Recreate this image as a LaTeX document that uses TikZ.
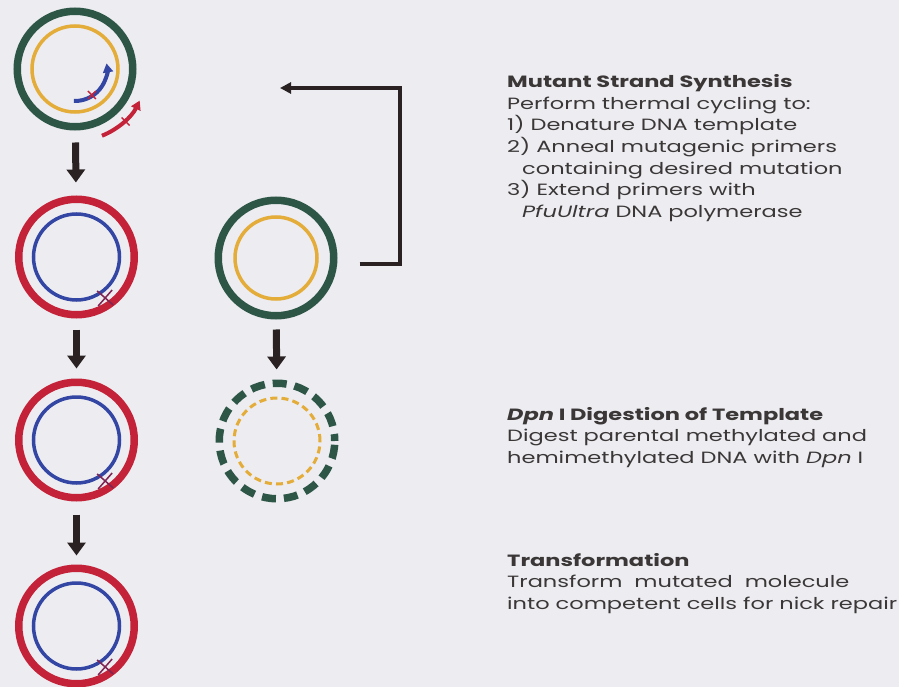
\documentclass[tikz,border=0pt]{standalone}
\usepackage{fontspec}
\setmainfont{Poppins}[FakeStretch=1.38]
\usepackage{xcolor}
\usepackage{tikz}
\usetikzlibrary{calc,arrows.meta}
\definecolor{paper}{HTML}{ECECF1}
\definecolor{tmplgreen}{HTML}{2E5646}
\definecolor{tmplyellow}{HTML}{E4AC38}
\definecolor{mutred}{HTML}{C42238}
\definecolor{mutblue}{HTML}{3446A4}
\definecolor{nickpurple}{HTML}{7E2452}
\definecolor{arrowdark}{HTML}{2A2222}
\definecolor{body}{HTML}{3B3737}
\tikzset{
  outerring/.style={circle, draw, line width=7.5pt, minimum size=115.5pt, inner sep=0pt},
  innerring/.style={circle, draw, line width=3.5pt, minimum size=86pt, inner sep=0pt},
  primer/.style={line width=4pt, -{Triangle[length=9pt,width=10pt]}},
  mutx/.style={draw=mutred, line width=1.4pt},
  nickline/.style={draw=nickpurple, line width=1.5pt},
  stepdown/.style={draw=arrowdark, line width=7pt, -{Triangle[length=13pt,width=18pt]}},
  loopback/.style={draw=arrowdark, line width=3.5pt, -{Triangle[length=11pt,width=11pt]}},
  % multi-line node: anchored at the baseline of its last line
  desc/.style={anchor=base west, align=left, inner sep=0pt, text=body, font=\fontsize{16.3}{21.5}\selectfont},
}

\begin{document}
\begin{tikzpicture}[x=1pt, y=1pt]
\fill[paper] (0,0) rectangle (899,-687);
\useasboundingbox (0,0) rectangle (899,-687);

% left column: template, annealed, nicked, repaired
\node[outerring, draw=tmplgreen] (tmpl) at (75,-69) {};
\node[innerring, draw=tmplyellow] (tmplin) at (tmpl) {};
\node[outerring, draw=mutred] (anneal) at (76.5,-257) {};
\node[innerring, draw=mutblue] (annealin) at (anneal) {};
\node[outerring, draw=mutred] (nicked) at (76.5,-440) {};
\node[innerring, draw=mutblue] (nickedin) at (nicked) {};
\node[outerring, draw=mutred] (repaired) at (76.5,-626) {};
\node[innerring, draw=mutblue] (repairedin) at (repaired) {};

% middle column: parental plasmid and its digested copy
\node[outerring, draw=tmplgreen] (parent) at (276,-258) {};
\node[innerring, draw=tmplyellow, minimum size=82pt] (parentin) at (parent) {};
\node[outerring, draw=tmplgreen, dash pattern=on 14pt off 8pt, dash phase=7pt] (digest) at (277,-441) {};
\node[innerring, draw=tmplyellow, line width=3pt, dash pattern=on 7pt off 4.2pt] (digestin) at (digest) {};

% mutagenic primers on the template
\draw[primer, mutblue] ($(tmpl)+(-92:32)$) arc[start angle=-92, end angle=10, radius=32];
\draw[primer, mutred] ($(tmpl)+(-68:72)$) arc[start angle=-68, end angle=-26, radius=72];
\draw[mutx] ($(tmpl)+(-57:31)+(-4,-4)$) -- ++(8,8) ($(tmpl)+(-57:31)+(-4,4)$) -- ++(8,-8);
\draw[mutx] ($(tmpl)+(-46:73)+(-4,-4)$) -- ++(8,8) ($(tmpl)+(-46:73)+(-4,4)$) -- ++(8,-8);

% nicks carrying the mutation
\foreach \c in {anneal,nicked,repaired}{
  \fill[paper] ($(\c)+(-55:50)$) circle (3.2);
  \draw[nickline] ($(\c)+(-55:50)+(-7,-8)$) -- ++(14,16)
                  ($(\c)+(-55:50)+(-8,7)$) -- ++(16,-14);
}

% steps
\draw[stepdown, shorten <=12pt, shorten >=13pt] (tmpl) -- (anneal);
\draw[stepdown, shorten <=11pt, shorten >=10pt] (anneal) -- (nicked);
\draw[stepdown, shorten <=13pt, shorten >=9pt] (nicked) -- (repaired);
\draw[stepdown, shorten <=10pt, shorten >=10pt] (parent) -- (digest);

% thermal cycle
\coordinate (cyclein) at (280,-88);
\draw[loopback] ($(parent.east)+(22,-6)$) -| (400,-88) -- (cyclein);

% step descriptions
\node[desc] (synth) at (507,-217) {\textbf{Mutant Strand Synthesis}\\
  Perform thermal cycling to:\\
  1) Denature DNA template\\
  2) Anneal mutagenic primers\\
  \hspace*{15pt}containing desired mutation\\
  3) Extend primers with\\
  \hspace*{15pt}\textit{PfuUltra} DNA polymerase};
\node[desc] (dpn) at (507,-463) {\textbf{\textit{Dpn} I Digestion of Template}\\
  Digest parental methylated and\\
  hemimethylated DNA with \textit{Dpn} I};
\node[desc] (transf) at (507,-609) {\textbf{Transformation}\\
  Transform\ \ mutated\ \ molecule\\
  into competent cells for nick repair};
\end{tikzpicture}
\end{document}
